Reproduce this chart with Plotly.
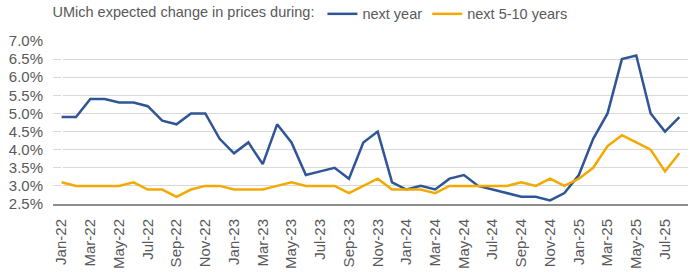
import plotly.graph_objects as go

months = ["Jan-22","Feb-22","Mar-22","Apr-22","May-22","Jun-22","Jul-22","Aug-22","Sep-22","Oct-22","Nov-22","Dec-22",
          "Jan-23","Feb-23","Mar-23","Apr-23","May-23","Jun-23","Jul-23","Aug-23","Sep-23","Oct-23","Nov-23","Dec-23",
          "Jan-24","Feb-24","Mar-24","Apr-24","May-24","Jun-24","Jul-24","Aug-24","Sep-24","Oct-24","Nov-24","Dec-24",
          "Jan-25","Feb-25","Mar-25","Apr-25","May-25","Jun-25","Jul-25","Aug-25"]

next_year = [4.9,4.9,5.4,5.4,5.3,5.3,5.2,4.8,4.7,5.0,5.0,4.3,
             3.9,4.2,3.6,4.7,4.2,3.3,3.4,3.5,3.2,4.2,4.5,3.1,
             2.9,3.0,2.9,3.2,3.3,3.0,2.9,2.8,2.7,2.7,2.6,2.8,
             3.3,4.3,5.0,6.5,6.6,5.0,4.5,4.9]

next_5_10 = [3.1,3.0,3.0,3.0,3.0,3.1,2.9,2.9,2.7,2.9,3.0,3.0,
             2.9,2.9,2.9,3.0,3.1,3.0,3.0,3.0,2.8,3.0,3.2,2.9,
             2.9,2.9,2.8,3.0,3.0,3.0,3.0,3.0,3.1,3.0,3.2,3.0,
             3.2,3.5,4.1,4.4,4.2,4.0,3.4,3.9]

tick_labels = months[::2]
y_ticks = [2.5,3.0,3.5,4.0,4.5,5.0,5.5,6.0,6.5,7.0]

x_idx = list(range(len(months)))

fig = go.Figure()
fig.add_trace(go.Scatter(x=x_idx, y=next_year, mode="lines", name="next year",
                         line=dict(color="#2F5597", width=2.5)))
fig.add_trace(go.Scatter(x=x_idx, y=next_5_10, mode="lines", name="next 5-10 years",
                         line=dict(color="#F2A900", width=2.5)))

fig.update_layout(
    width=700, height=272,
    margin=dict(l=53, r=12, t=41, b=68, autoexpand=False),
    paper_bgcolor="white", plot_bgcolor="white",
    font=dict(family="Liberation Sans, Arial, sans-serif", size=15, color="#595959"),
    legend=dict(orientation="h", x=-0.004, xanchor="left", y=1.068, yanchor="bottom",
                title=dict(text="UMich expected change in prices during:", font=dict(size=14.5, color="#595959")),
                font=dict(size=14.5, color="#595959"), itemwidth=30,
                bgcolor="rgba(0,0,0,0)", tracegroupgap=0),
    showlegend=True,
)
fig.update_xaxes(
    tickmode="array", tickvals=x_idx[::2], ticktext=tick_labels,
    tickangle=-90, range=[-0.6, 43.6], showgrid=False,
    showline=True, linecolor="#8C8C8C", linewidth=2, ticks="",
    ticklabelstandoff=7, automargin=False,
    tickfont=dict(size=15, color="#595959"),
)
fig.update_yaxes(
    tickmode="array", tickvals=y_ticks, ticktext=[f"{v:.1f}%" for v in y_ticks],
    range=[2.5, 7.0], showgrid=True, gridcolor="#D9D9D9", gridwidth=1,
    zeroline=False, showline=False, ticks="",
    ticklabelstandoff=9, automargin=False,
    tickfont=dict(size=15, color="#595959"),
)

fig.write_html("out.html")
